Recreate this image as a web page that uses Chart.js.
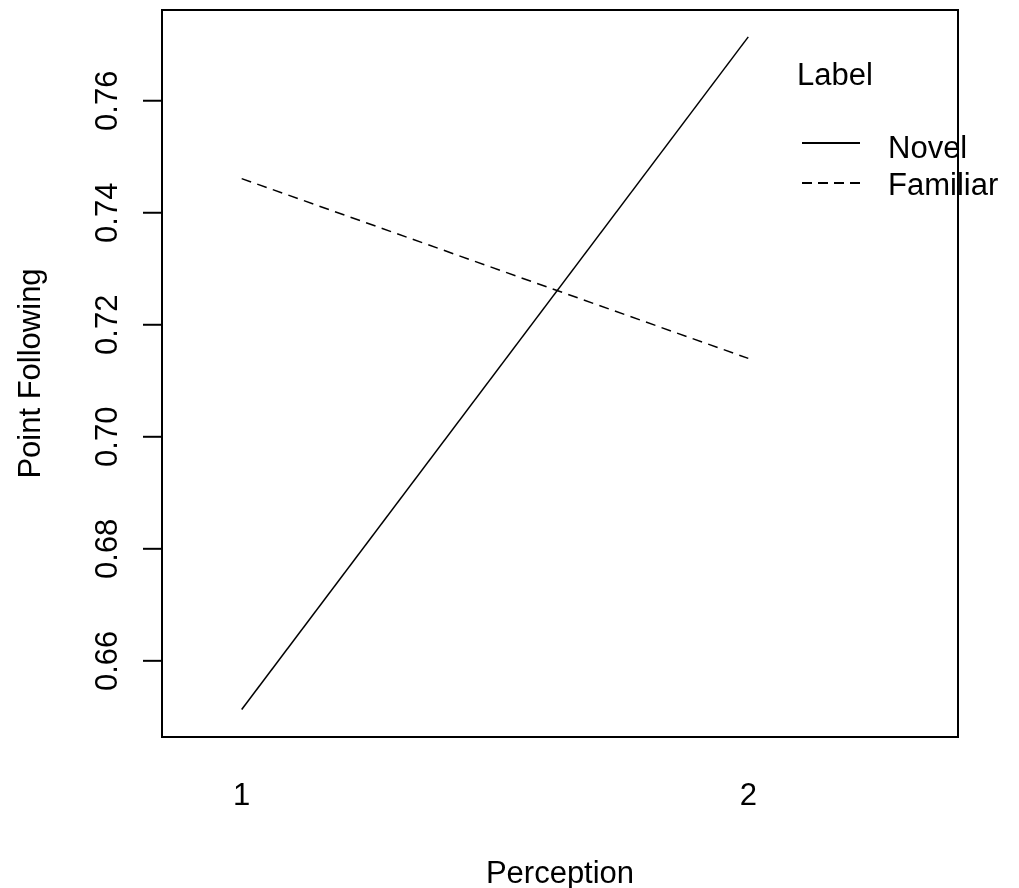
<!DOCTYPE html>
<html>
<head>
<meta charset="utf-8">
<script src="https://cdn.jsdelivr.net/npm/chart.js@4.4.1/dist/chart.umd.min.js"></script>
<style>
    html, body { margin: 0; padding: 0; background: #fff; }
    #chart { display: block; }
</style>
</head>
<body>
<canvas id="chart" width="1019" height="888"></canvas>
<script>
// --- DATA ---
const perception = [1, 2];
const novelValues = [0.6513, 0.7714];
const familiarValues = [0.7461, 0.7140];
const yTickValues = [0.66, 0.68, 0.70, 0.72, 0.74, 0.76];
const xTickValues = [1, 2];
const legendTitle = 'Label';
const seriesNames = ['Novel', 'Familiar'];

const FONT = '31px "Liberation Sans", Arial, sans-serif';
const DASH = [10, 6.5];

const toPoints = (values) => perception.map((x, i) => ({ x, y: values[i] }));

// --- R-STYLE FRAME, AXES, LEGEND ---
const rFrame = {
    id: 'rFrame',
    afterDraw(chart) {
        const { ctx, chartArea: a, scales: { x, y } } = chart;
        ctx.save();
        ctx.strokeStyle = '#000';
        ctx.fillStyle = '#000';
        ctx.lineWidth = 2;
        ctx.strokeRect(a.left, a.top, a.right - a.left, a.bottom - a.top);

        // y ticks + rotated labels
        ctx.font = FONT;
        y.ticks.forEach(t => {
            const py = y.getPixelForValue(t.value);
            ctx.beginPath();
            ctx.moveTo(a.left - 19, py);
            ctx.lineTo(a.left, py);
            ctx.stroke();
            ctx.save();
            ctx.translate(117, py);
            ctx.rotate(-Math.PI / 2);
            ctx.textAlign = 'center';
            ctx.textBaseline = 'alphabetic';
            ctx.fillText(t.value.toFixed(2), 0, 0);
            ctx.restore();
        });

        // x labels (no tick marks, as in the original)
        ctx.textAlign = 'center';
        ctx.textBaseline = 'alphabetic';
        x.ticks.forEach(t => {
            ctx.fillText(String(t.value), x.getPixelForValue(t.value), 805);
        });

        // axis titles
        ctx.fillText('Perception', (a.left + a.right) / 2, 883);
        ctx.save();
        ctx.translate(40, (a.top + a.bottom) / 2);
        ctx.rotate(-Math.PI / 2);
        ctx.fillText('Point Following', 0, 0);
        ctx.restore();

        // legend
        ctx.textAlign = 'left';
        ctx.fillText(legendTitle, 797, 85);
        const rows = [{ y: 143, dash: [], text: 158 }, { y: 183, dash: [10, 6], text: 195 }];
        rows.forEach((r, i) => {
            ctx.lineWidth = 1.8;
            ctx.setLineDash(r.dash);
            ctx.beginPath();
            ctx.moveTo(802, r.y);
            ctx.lineTo(860, r.y);
            ctx.stroke();
            ctx.setLineDash([]);
            ctx.fillText(seriesNames[i], 888, r.text);
        });
        ctx.restore();
    }
};

const chart = new Chart(document.getElementById('chart'), {
    type: 'line',
    data: {
        datasets: [
            { label: seriesNames[0], data: toPoints(novelValues), borderColor: '#000', borderWidth: 1.5, pointRadius: 0, tension: 0 },
            { label: seriesNames[1], data: toPoints(familiarValues), borderColor: '#000', borderWidth: 1.5, borderDash: DASH, pointRadius: 0, tension: 0 }
        ]
    },
    options: {
        responsive: false,
        animation: false,
        events: [],
        layout: { padding: { top: 10, right: 61, left: 0, bottom: 0 } },
        plugins: { legend: { display: false }, tooltip: { enabled: false } },
        scales: {
            x: {
                type: 'linear',
                min: 0.8427,
                max: 2.414,
                grid: { display: false },
                border: { display: false },
                ticks: { display: false },
                afterBuildTicks: s => { s.ticks = xTickValues.map(v => ({ value: v })); },
                afterFit: s => { s.height = 151; }
            },
            y: {
                min: 0.6464,
                max: 0.7762,
                grid: { display: false },
                border: { display: false },
                ticks: { display: false },
                afterBuildTicks: s => { s.ticks = yTickValues.map(v => ({ value: v })); },
                afterFit: s => { s.width = 162; }
            }
        }
    },
    plugins: [rFrame]
});
</script>
</body>
</html>
